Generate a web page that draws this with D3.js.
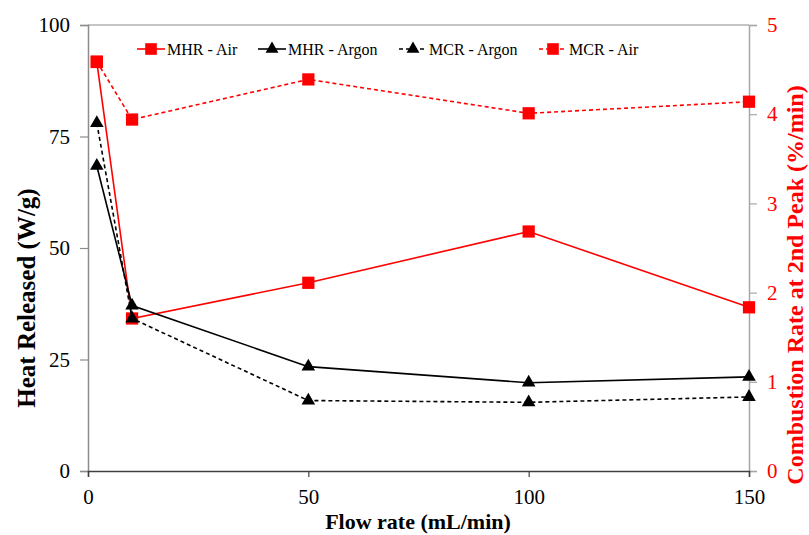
<!DOCTYPE html>
<html>
<head>
<meta charset="utf-8">
<script src="https://cdn.jsdelivr.net/npm/d3@7"></script>
<style>
  body { margin: 0; background: #fff; }
  text { font-family: "Liberation Serif", "Times New Roman", serif; }
</style>
</head>
<body>
<div id="chart"></div>
<script>
// Data
const flowRates = [2, 10, 50, 100, 150];
const mhrAir = [91.7, 34.2, 42.2, 53.7, 36.7];      // W/g, left axis
const mhrArgon = [68.4, 37.1, 23.4, 19.8, 21.1];    // W/g, left axis
const mcrArgon = [3.90, 1.71, 0.79, 0.77, 0.83];    // %/min, right axis
const mcrAir = [4.59, 3.94, 4.39, 4.01, 4.14];      // %/min, right axis
const xTicks = [0, 50, 100, 150];
const leftTicks = [0, 25, 50, 75, 100];
const rightTicks = [0, 1, 2, 3, 4, 5];

const width = 809, height = 535;
const margin = { top: 25, right: 60, bottom: 64, left: 88 };
const serif = "'Liberation Serif', 'Times New Roman', serif";

const svg = d3.select("#chart").append("svg")
    .attr("width", width)
    .attr("height", height);

const x = d3.scaleLinear().domain([0, 150]).range([margin.left, 749]);
const yL = d3.scaleLinear().domain([0, 100]).range([471, margin.top]);
const yR = d3.scaleLinear().domain([0, 5]).range([471, margin.top]);

// top border
svg.append("line")
    .attr("x1", x(0)).attr("x2", x(150))
    .attr("y1", yL(100)).attr("y2", yL(100))
    .attr("stroke", "#8c8c8c").attr("stroke-width", 1.2);

// Left axis
const gL = svg.append("g")
    .attr("transform", `translate(${x(0)},0)`)
    .attr("font-family", serif)
    .call(d3.axisLeft(yL).tickValues(leftTicks).tickSize(8).tickPadding(10));
gL.select(".domain").attr("stroke", "#8c8c8c").attr("stroke-width", 1.5);
gL.selectAll(".tick line").attr("stroke", "#8c8c8c").attr("stroke-width", 1.2);
gL.selectAll("text").style("font-size", "21px").style("font-family", serif).attr("fill", "#000");

// Right axis
const gR = svg.append("g")
    .attr("transform", `translate(${x(150)},0)`)
    .call(d3.axisRight(yR).tickValues(rightTicks).tickFormat(d3.format("d")).tickSize(8).tickPadding(10));
gR.select(".domain").attr("stroke", "#a6a6a6").attr("stroke-width", 1.5);
gR.selectAll(".tick line").attr("stroke", "#a6a6a6").attr("stroke-width", 1.2);
gR.selectAll("text").style("font-size", "21px").style("font-family", serif).attr("fill", "#ff0000");

// Bottom axis
const gX = svg.append("g")
    .attr("transform", `translate(0,${yL(0)})`)
    .call(d3.axisBottom(x).tickValues(xTicks).tickSize(6).tickPadding(12));
gX.select(".domain").attr("stroke", "#404040").attr("stroke-width", 1.5);
gX.selectAll(".tick line").attr("stroke", "#404040").attr("stroke-width", 1.2);
gX.selectAll("text").style("font-size", "21px").style("font-family", serif).attr("fill", "#000");

// Series
const series = [
    { name: "MHR - Air", values: mhrAir, y: yL, color: "#ff0000", dash: null, symbol: d3.symbolSquare, size: 150 },
    { name: "MHR - Argon", values: mhrArgon, y: yL, color: "#000000", dash: null, symbol: d3.symbolTriangle, size: 80 },
    { name: "MCR - Argon", values: mcrArgon, y: yR, color: "#000000", dash: "4 3", symbol: d3.symbolTriangle, size: 80 },
    { name: "MCR - Air", values: mcrAir, y: yR, color: "#ff0000", dash: "4 3", symbol: d3.symbolSquare, size: 150 }
];

series.forEach(s => {
    const pts = flowRates.map((f, i) => [f, s.values[i]]);
    const line = d3.line().x(d => x(d[0])).y(d => s.y(d[1]));
    svg.append("path")
        .datum(pts)
        .attr("d", line)
        .attr("fill", "none")
        .attr("stroke", s.color)
        .attr("stroke-width", 1.6)
        .attr("stroke-dasharray", s.dash);
    svg.selectAll(null)
        .data(pts)
        .enter()
        .append("path")
        .attr("d", d3.symbol().type(s.symbol).size(s.size))
        .attr("transform", d => `translate(${x(d[0])},${s.y(d[1])})`)
        .attr("fill", s.color);
});

// Legend
const legendX = [137, 258, 399, 539];
series.forEach((s, i) => {
    const g = svg.append("g").attr("transform", `translate(${legendX[i]},49)`);
    g.append("line")
        .attr("x1", 0).attr("x2", 28)
        .attr("stroke", s.color).attr("stroke-width", 1.6)
        .attr("stroke-dasharray", s.dash);
    g.append("path")
        .attr("d", d3.symbol().type(s.symbol).size(s.size * 0.9))
        .attr("transform", "translate(14,0)")
        .attr("fill", s.color);
    g.append("text")
        .attr("x", 30)
        .attr("y", 6)
        .style("font-size", "16px")
        .style("font-family", serif)
        .text(s.name);
});

// Axis titles
svg.append("text")
    .attr("text-anchor", "middle")
    .attr("x", 418)
    .attr("y", 529)
    .style("font-size", "22px")
    .style("font-weight", "bold")
    .style("font-family", serif)
    .text("Flow rate (mL/min)");

svg.append("text")
    .attr("text-anchor", "middle")
    .attr("transform", "translate(35,298) rotate(-90)")
    .style("font-size", "25px")
    .style("font-weight", "bold")
    .style("font-family", serif)
    .text("Heat Released (W/g)");

svg.append("text")
    .attr("text-anchor", "middle")
    .attr("transform", "translate(803,285) rotate(-90)")
    .style("font-size", "24px")
    .style("font-weight", "bold")
    .style("font-family", serif)
    .attr("fill", "#ff0000")
    .text("Combustion Rate at 2nd Peak (%/min)");
</script>
</body>
</html>
